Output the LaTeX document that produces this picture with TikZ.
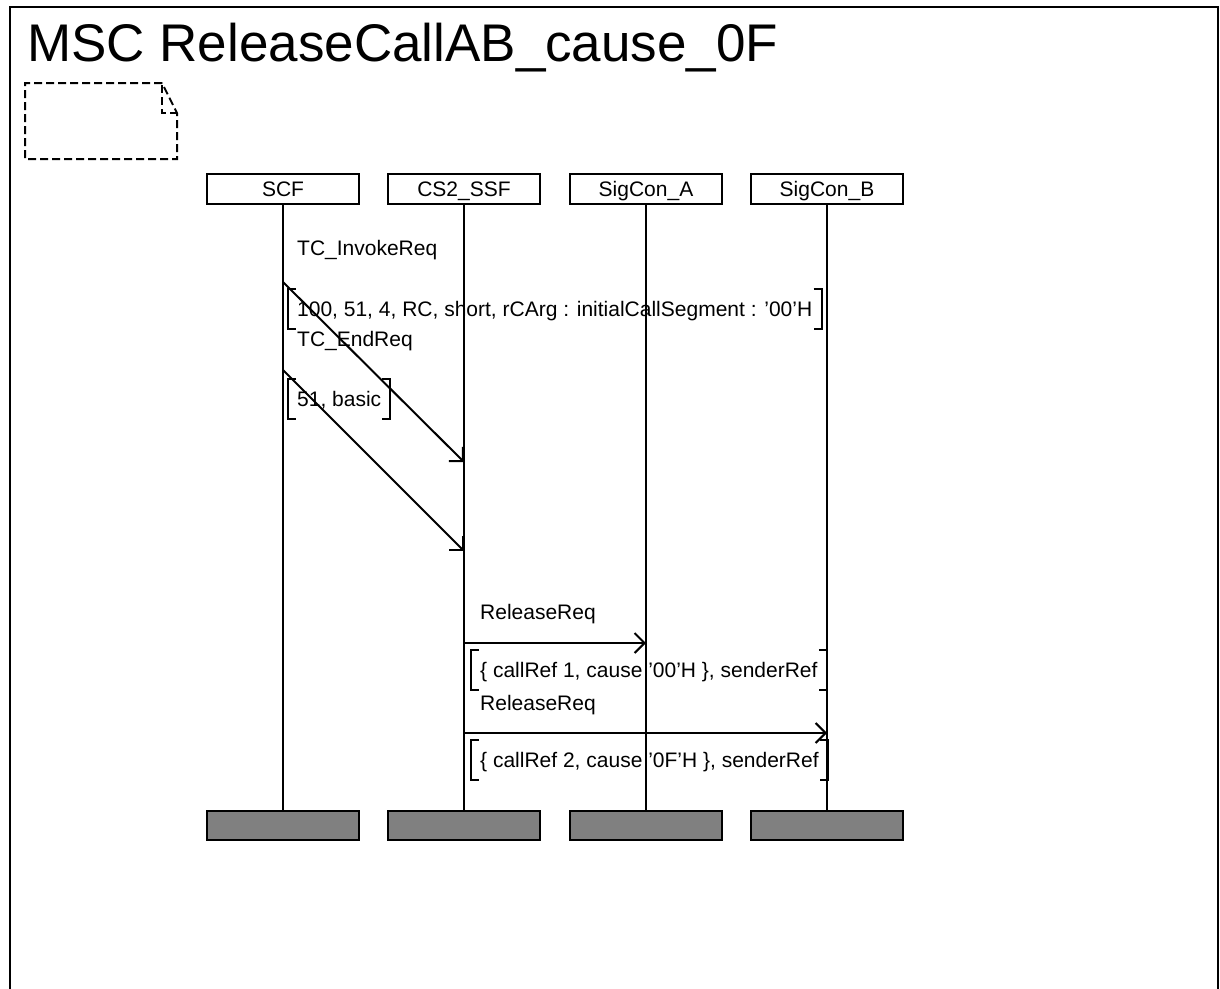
\documentclass[tikz,border=0pt]{standalone}
\usepackage{fontspec}
\setmainfont{Liberation Sans}
\usetikzlibrary{arrows.meta}
\begin{document}
\begin{tikzpicture}[x=1pt,y=-1pt,
  every node/.style={font=\fontsize{21}{25}\selectfont},
  stroke/.style={line width=2pt},
  headbox/.style={draw, stroke, minimum width=152pt, minimum height=30pt, inner sep=0pt, text height=15pt, text depth=0pt},
  tailbox/.style={draw, stroke, fill=black!50, minimum width=152pt, minimum height=29pt, inner sep=0pt},
  lifeline/.style={stroke},
  msg/.style={stroke, -{Straight Barb[length=10pt,width=20pt]}},
  msglabel/.style={anchor=base west, inner sep=0pt},
  param/.style={anchor=west, inner xsep=9pt, inner ysep=0pt, minimum height=39pt, text height=15pt, text depth=0pt},
  bracket/.style={stroke},
]
\useasboundingbox (0,0) rectangle (1220,988);
% diagram frame and heading
\draw[line width=2.5pt] (10,995) -- (10,7) -- (1218,7) -- (1218,995);
\node[anchor=base west, inner sep=0pt, font=\fontsize{53}{60}\selectfont] (title) at (27,61) {MSC ReleaseCallAB\_cause\_0F};
% empty comment symbol
\draw[stroke, dash pattern=on 8pt off 4pt] (162,83) -- (25,83) -- (25,159) -- (177,159) -- (177,113) -- cycle;
\draw[stroke, dash pattern=on 8pt off 4pt] (162,85) -- (162,113) -- (177,113);
% instance heads
\node[headbox] (scf) at (283,189) {SCF};
\node[headbox] (ssf) at (464,189) {CS2\_SSF};
\node[headbox] (sca) at (646,189) {SigCon\_A};
\node[headbox] (scb) at (827,189) {SigCon\_B};
% instance ends
\node[tailbox] (scfend) at (283,825.5) {};
\node[tailbox] (ssfend) at (464,825.5) {};
\node[tailbox] (scaend) at (646,825.5) {};
\node[tailbox] (scbend) at (827,825.5) {};
% lifelines
\foreach \i in {scf,ssf,sca,scb}
  \draw[lifeline] (\i.south) -- (\i end.north);
% message rows
\coordinate (r1a) at (0,282);
\coordinate (r1b) at (0,462);
\coordinate (r2a) at (0,370);
\coordinate (r2b) at (0,551);
\coordinate (r3) at (0,643);
\coordinate (r4) at (0,733);
\draw[msg] (scf |- r1a) -- (ssf |- r1b);
\draw[msg] (scf |- r2a) -- (ssf |- r2b);
\draw[msg] (ssf |- r3) -- (sca |- r3);
\draw[msg] (ssf |- r4) -- (scb |- r4);
% message names and parameters
\node[msglabel] (l1) at (297,255) {TC\_InvokeReq};
\node[param] (p1) at (288,309) {100, 51, 4, RC, short, rCArg : initialCallSegment : ’00’H};
\node[msglabel] (l2) at (297,346) {TC\_EndReq};
\node[param] (p2) at (288,399) {51, basic};
\node[msglabel] (l3) at (480,619) {ReleaseReq};
\node[param] (p3) at (471,670) {\{ callRef 1, cause ’00’H \}, senderRef};
\node[msglabel] (l4) at (480,710) {ReleaseReq};
\node[param] (p4) at (471,760) {\{ callRef 2, cause ’0F’H \}, senderRef};
\foreach \p in {p1,p2,p3,p4} {
  \draw[bracket] ([xshift=8pt]\p.north west) -- (\p.north west) -- (\p.south west) -- ([xshift=8pt]\p.south west);
  \draw[bracket] ([xshift=-8pt]\p.north east) -- (\p.north east) -- (\p.south east) -- ([xshift=-8pt]\p.south east);
}
\end{tikzpicture}
\end{document}
